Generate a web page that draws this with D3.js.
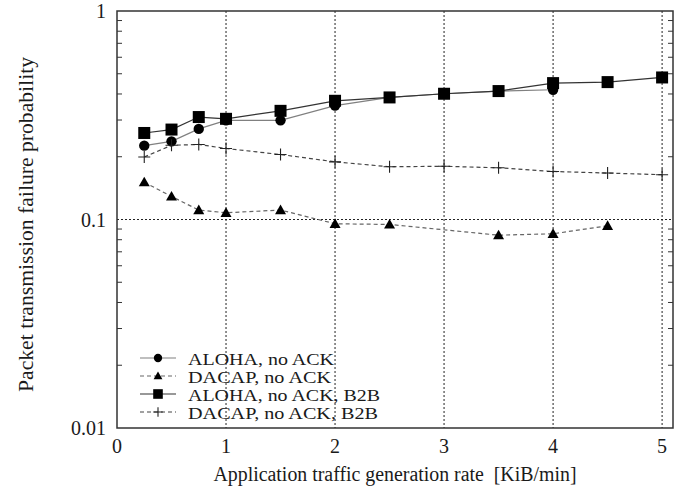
<!DOCTYPE html>
<html>
<head>
<meta charset="utf-8">
<script src="https://cdn.jsdelivr.net/npm/d3@7"></script>
<style>
  body { margin: 0; background: #fff; }
  text { font-family: "Liberation Serif", "Times New Roman", serif; fill: #1a1a1a; }
</style>
</head>
<body>
<div id="chart"></div>
<script>
// data
var xAloha = [0.25, 0.5, 0.75, 1, 1.5, 2, 2.5, 3, 3.5, 4];
var alohaNoAck = [0.226, 0.237, 0.272, 0.299, 0.299, 0.352, 0.385, 0.401, 0.413, 0.419];

var xDacap = [0.25, 0.5, 0.75, 1, 1.5, 2, 2.5, 3.5, 4, 4.5];
var dacapNoAck = [0.151, 0.129, 0.111, 0.1077, 0.111, 0.0954, 0.0947, 0.0841, 0.0854, 0.0933];

var xAlohaB2B = [0.25, 0.5, 0.75, 1, 1.5, 2, 2.5, 3, 3.5, 4, 4.5, 5];
var alohaB2B = [0.26, 0.27, 0.31, 0.304, 0.332, 0.371, 0.385, 0.401, 0.413, 0.451, 0.456, 0.48];

var xDacapB2B = [0.25, 0.5, 0.75, 1, 1.5, 2, 2.5, 3, 3.5, 4, 4.5, 5];
var dacapB2B = [0.1995, 0.227, 0.229, 0.219, 0.205, 0.189, 0.179, 0.18, 0.177, 0.170, 0.167, 0.164];

var xTicks = [0, 1, 2, 3, 4, 5];
var yTicks = [0.01, 0.1, 1];
var xGrid = [1, 2, 3, 4, 5];
var yGrid = [0.1];

var series = [
  {name: "ALOHA, no ACK", xs: xAloha, ys: alohaNoAck, marker: "circle", dash: null, color: "#808080", len: 146},
  {name: "DACAP, no ACK", xs: xDacap, ys: dacapNoAck, marker: "triangle", dash: "4,3", color: "#666", len: 143},
  {name: "ALOHA, no ACK, B2B", xs: xAlohaB2B, ys: alohaB2B, marker: "square", dash: null, color: "#333", len: 192},
  {name: "DACAP, no ACK, B2B", xs: xDacapB2B, ys: dacapB2B, marker: "plus", dash: "4,3", color: "#444", len: 190}
];

var margin = {top: 11, right: 16, bottom: 64, left: 117},
  width = 689 - margin.left - margin.right,
  height = 492 - margin.top - margin.bottom;

var svg = d3.select("#chart")
  .append("svg")
    .attr("width", 689)
    .attr("height", 492)
  .append("g")
    .attr("transform", "translate(" + margin.left + "," + margin.top + ")");

var x = d3.scaleLinear().domain([0, 5.1]).range([0, width]);
var y = d3.scaleLog().domain([0.01, 1]).range([height, 0]);

// grid lines
svg.selectAll(".xgrid")
  .data(xGrid).enter()
  .append("line")
  .attr("x1", function(d) { return x(d); })
  .attr("x2", function(d) { return x(d); })
  .attr("y1", 0).attr("y2", height)
  .style("stroke", "#222")
  .style("stroke-width", 1)
  .style("stroke-dasharray", "2,2");

svg.selectAll(".ygrid")
  .data(yGrid).enter()
  .append("line")
  .attr("x1", 0).attr("x2", width)
  .attr("y1", function(d) { return y(d); })
  .attr("y2", function(d) { return y(d); })
  .style("stroke", "#222")
  .style("stroke-width", 1)
  .style("stroke-dasharray", "2,2");

// minor ticks on the log axis, both sides, pointing inward
var minor = [];
[0.01, 0.1].forEach(function(dec) {
  for (var k = 2; k <= 9; k++) minor.push(dec * k);
});
svg.selectAll(".mtl").data(minor).enter().append("line")
  .attr("x1", 0).attr("x2", 5)
  .attr("y1", function(d) { return y(d); }).attr("y2", function(d) { return y(d); })
  .style("stroke", "#333");
svg.selectAll(".mtr").data(minor).enter().append("line")
  .attr("x1", width - 5).attr("x2", width)
  .attr("y1", function(d) { return y(d); }).attr("y2", function(d) { return y(d); })
  .style("stroke", "#333");

// lines
series.forEach(function(s) {
  var pts = s.xs.map(function(v, i) { return [v, s.ys[i]]; });
  svg.append("path")
    .datum(pts)
    .attr("d", d3.line().x(function(d) { return x(d[0]); }).y(function(d) { return y(d[1]); }))
    .style("fill", "none")
    .style("stroke", s.color)
    .style("stroke-width", 1.2)
    .style("stroke-dasharray", s.dash);
});

function drawMarker(g, type, cx, cy, big) {
  var sc = big ? 1 : 0.8;
  if (type === "circle") {
    g.append("circle").attr("cx", cx).attr("cy", cy).attr("r", 5.2 * sc).style("fill", "#000");
  } else if (type === "square") {
    var h = 6 * sc;
    g.append("rect").attr("x", cx - h).attr("y", cy - h).attr("width", 2 * h).attr("height", 2 * h).style("fill", "#000");
  } else if (type === "triangle") {
    var t = 5.5 * sc;
    g.append("path")
      .attr("d", "M" + cx + "," + (cy - t) + "L" + (cx + t) + "," + (cy + t * 0.75) + "L" + (cx - t) + "," + (cy + t * 0.75) + "Z")
      .style("fill", "#000");
  } else if (type === "plus") {
    var p = 6 * sc;
    g.append("path")
      .attr("d", "M" + (cx - p) + "," + cy + "H" + (cx + p) + "M" + cx + "," + (cy - p) + "V" + (cy + p))
      .style("stroke", "#222").style("stroke-width", 1.1).style("fill", "none");
  }
}

// markers
series.forEach(function(s) {
  var g = svg.append("g");
  s.xs.forEach(function(v, i) {
    drawMarker(g, s.marker, x(v), y(s.ys[i]), true);
  });
});

// frame
svg.append("rect")
  .attr("x", 0).attr("y", 0)
  .attr("width", width).attr("height", height)
  .style("fill", "none")
  .style("stroke", "#333")
  .style("stroke-width", 1.5);

// tick labels
svg.selectAll(".xt").data(xTicks).enter().append("text")
  .attr("x", function(d) { return x(d); })
  .attr("y", height + 25)
  .style("text-anchor", "middle")
  .style("font-size", "20px")
  .text(function(d) { return d; });

svg.selectAll(".yt").data(yTicks).enter().append("text")
  .attr("x", -11)
  .attr("y", function(d) { return y(d) + 7; })
  .style("text-anchor", "end")
  .style("font-size", "20px")
  .text(function(d) { return d; });

// axis titles
svg.append("text")
  .attr("x", width / 2)
  .attr("y", height + 53)
  .style("text-anchor", "middle")
  .style("font-size", "20px")
  .style("white-space", "pre")
  .attr("textLength", 363)
  .attr("lengthAdjust", "spacingAndGlyphs")
  .text("Application traffic generation rate  [KiB/min]");

svg.append("text")
  .attr("transform", "translate(" + (-84) + "," + (height / 2 + 5) + ") rotate(-90)")
  .style("text-anchor", "middle")
  .style("font-size", "20px")
  .attr("textLength", 335)
  .attr("lengthAdjust", "spacingAndGlyphs")
  .text("Packet transmission failure probability");

// legend
var leg = svg.append("g").attr("transform", "translate(23,347)");
series.forEach(function(s, i) {
  var ly = i * 18;
  leg.append("line")
    .attr("x1", 0).attr("x2", 36)
    .attr("y1", ly).attr("y2", ly)
    .style("stroke", s.color)
    .style("stroke-width", 1.2)
    .style("stroke-dasharray", s.dash);
  drawMarker(leg, s.marker, 18, ly, false);
  leg.append("text")
    .attr("x", 48)
    .attr("y", ly + 7)
    .style("font-size", "17px")
    .attr("textLength", s.len)
    .attr("lengthAdjust", "spacingAndGlyphs")
    .text(s.name);
});
</script>
</body>
</html>
